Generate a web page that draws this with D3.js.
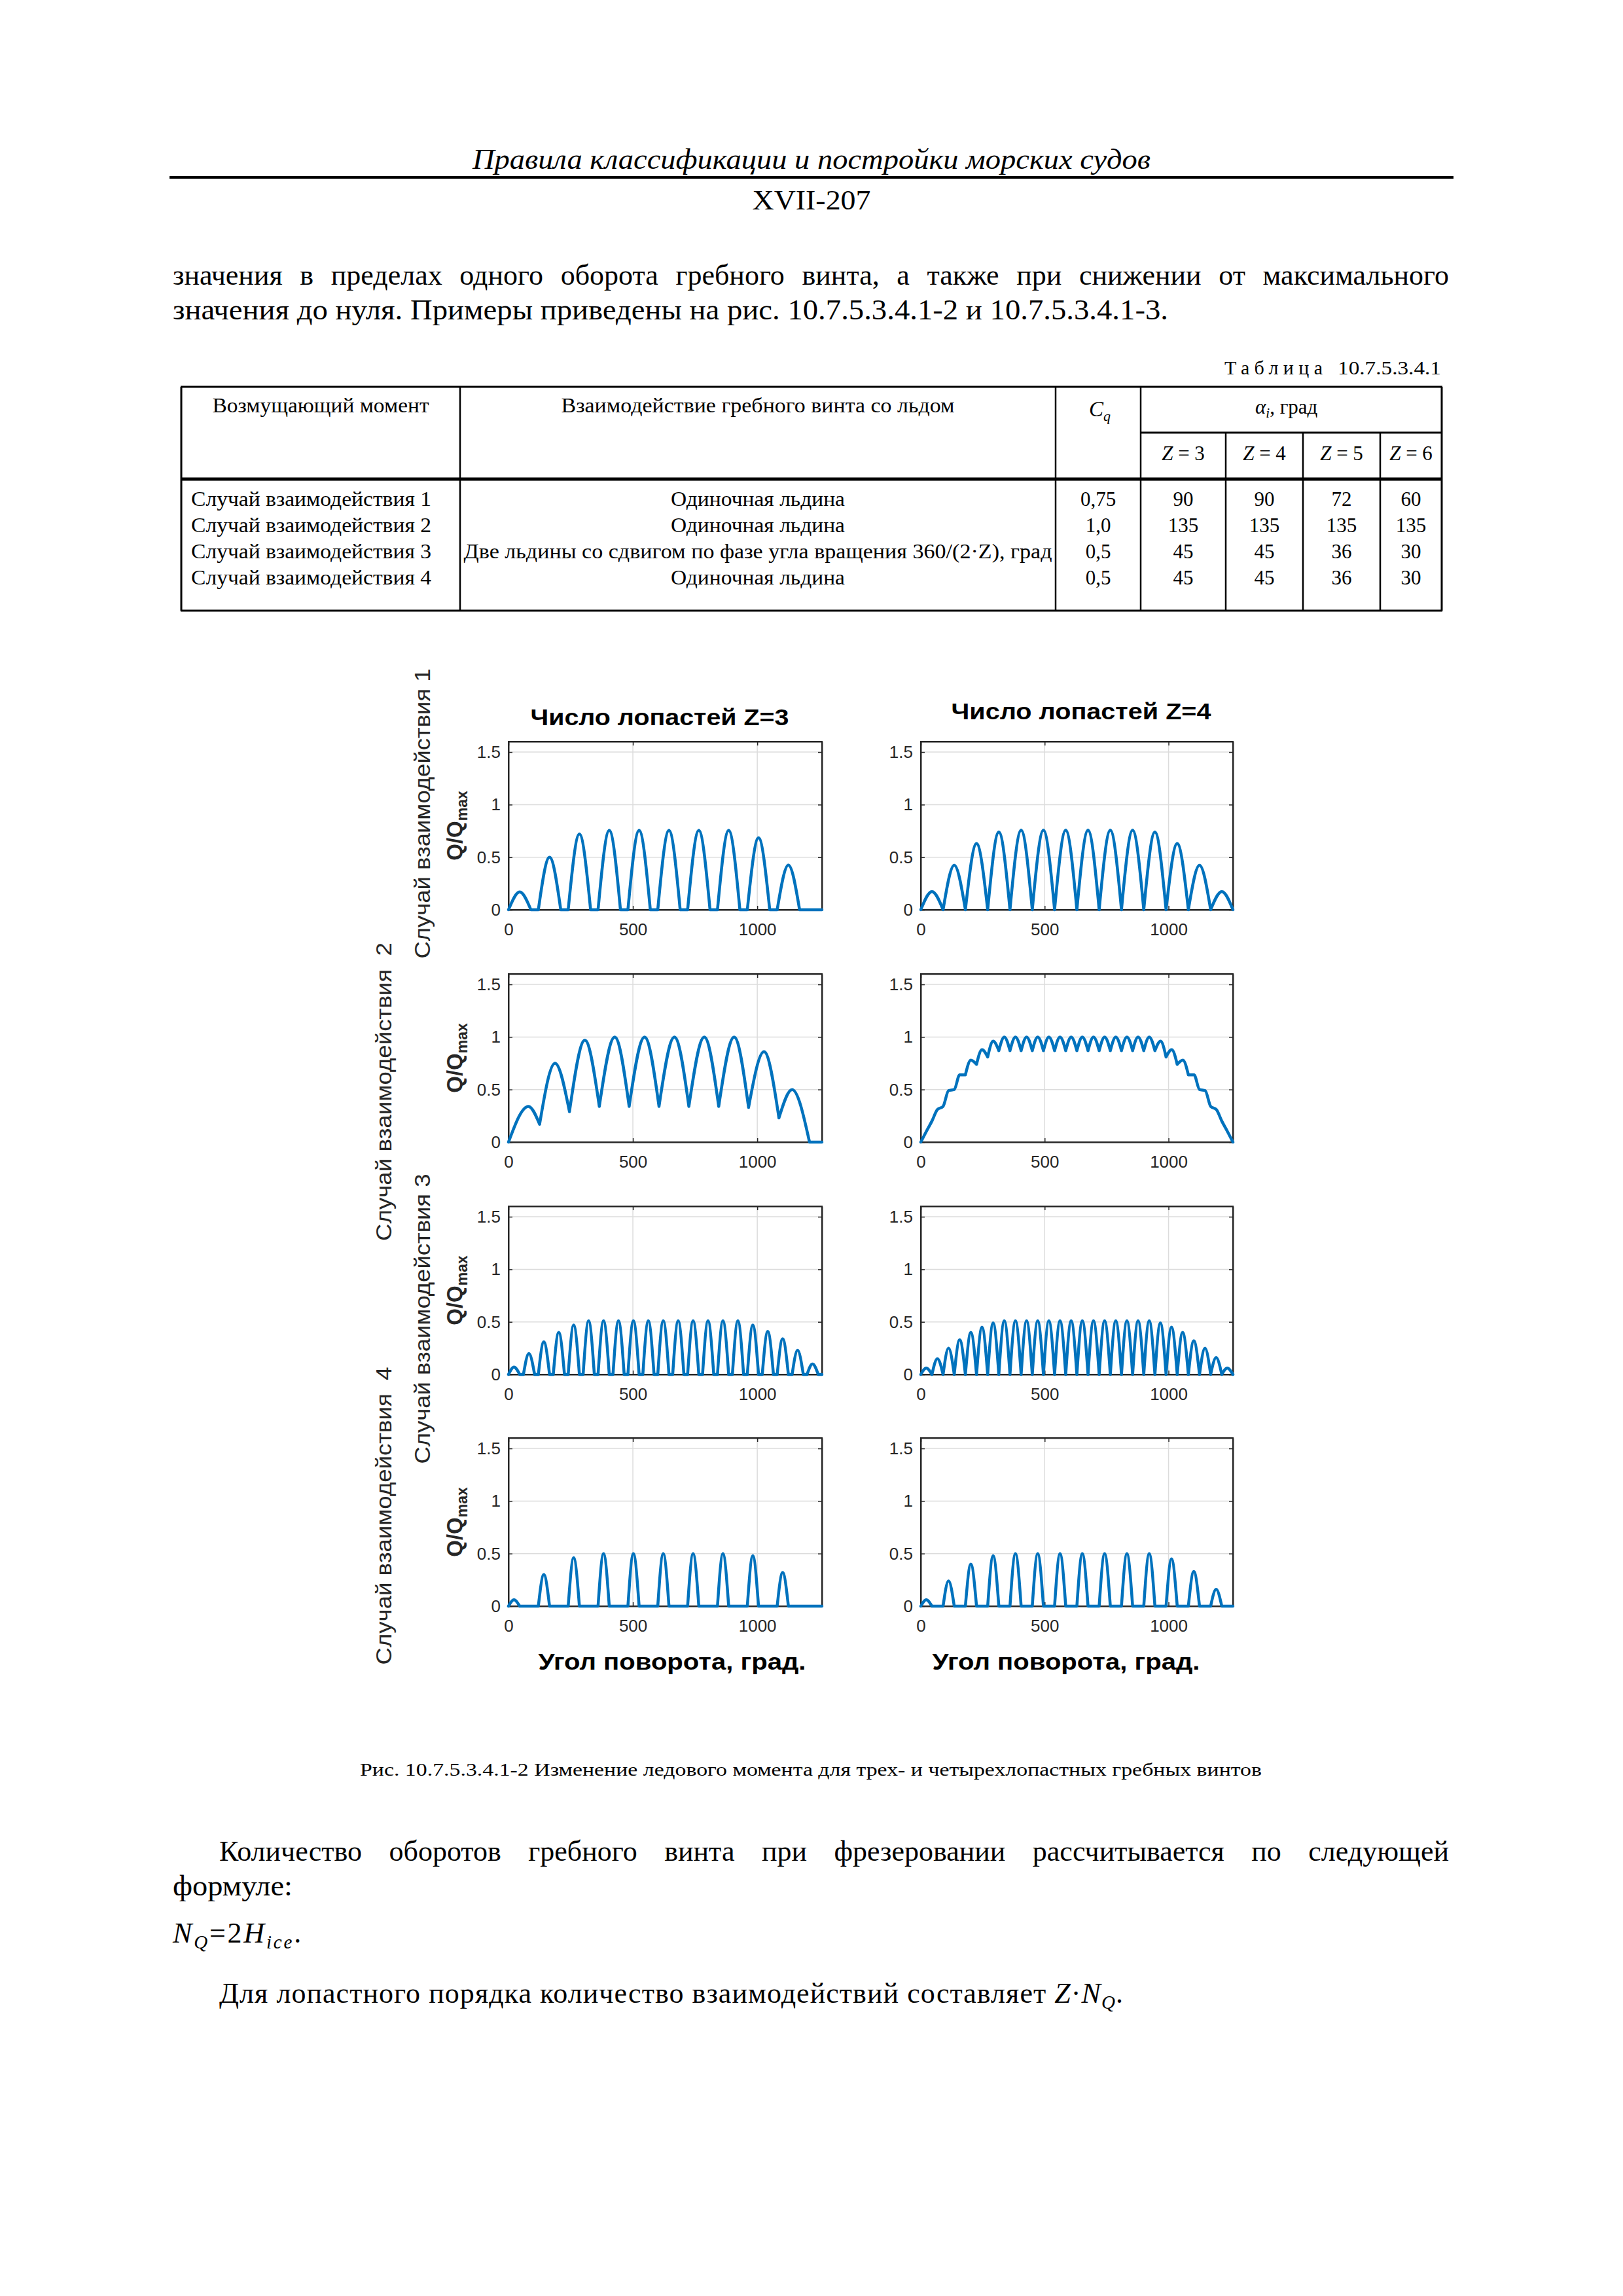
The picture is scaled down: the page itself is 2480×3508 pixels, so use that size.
<!DOCTYPE html>
<html><head><meta charset="utf-8">
<script src="https://cdn.jsdelivr.net/npm/d3@7"></script>
<style>body{margin:0;background:#fff}svg{display:block}</style>
</head><body>
<svg id="page" width="2480" height="3508"></svg>
<script>
// ---------------- DATA ----------------
const xDomain = [0, 1260];
const yDomain = [0, 1.6];
const xTicks = [0, 500, 1000];
const yTicks = [0, 0.5, 1, 1.5];
const yTickLabels = ["0", "0.5", "1", "1.5"];
const columnTitles = ["Число лопастей Z=3", "Число лопастей Z=4"];
const rowLabels = ["Случай взаимодействия 1", "Случай взаимодействия  2", "Случай взаимодействия 3", "Случай взаимодействия  4"];
const xLabel = "Угол поворота, град.";

// angle (deg), Q/Qmax  — key points
const case1Z3 = [[0,0],[45,0.17],[90,0],[120,0],[165,0.50],[210,0],[240,0],[285,0.72],[330,0],[360,0],[405,0.755],[450,0],[480,0],[525,0.755],[570,0],[600,0],[645,0.755],[690,0],[720,0],[765,0.755],[810,0],[840,0],[885,0.755],[930,0],[960,0],[1005,0.685],[1050,0],[1080,0],[1125,0.425],[1170,0],[1260,0]];
const case1Z4 = [[0,0],[45,0.173],[90,0],[135,0.423],[180,0],[225,0.63],[270,0],[315,0.74],[360,0],[405,0.756],[450,0],[495,0.756],[540,0],[585,0.756],[630,0],[675,0.756],[720,0],[765,0.756],[810,0],[855,0.756],[900,0],[945,0.74],[990,0],[1035,0.63],[1080,0],[1125,0.423],[1170,0],[1215,0.173],[1260,0]];
const case2Z3 = [[0,0],[80,0.34],[125,0.17],[187,0.75],[245,0.29],[307,0.97],[365,0.34],[427,1.0],[485,0.34],[547,1.0],[605,0.34],[667,1.0],[725,0.34],[787,1.0],[845,0.34],[907,1.0],[965,0.33],[1027,0.86],[1087,0.23],[1140,0.5],[1210,0],[1260,0]];
const case2Z4 = [[0,0],[22,0.1],[45,0.2],[67,0.31],[90,0.34],[112,0.49],[135,0.5],[157,0.64],[180,0.64],[202,0.78],[225,0.74],[247,0.88],[270,0.81],[292,0.96],[315,0.87],[337,1.0],[360,0.87],[382,1.0],[405,0.87],[427,1.0],[450,0.87],[472,1.0],[495,0.87],[517,1.0],[540,0.87],[562,1.0],[585,0.87],[607,1.0],[630,0.87],[652,1.0],[675,0.87],[697,1.0],[720,0.87],[742,1.0],[765,0.87],[787,1.0],[810,0.87],[832,1.0],[855,0.87],[877,1.0],[900,0.87],[922,1.0],[945,0.87],[968,0.96],[990,0.81],[1013,0.88],[1035,0.74],[1058,0.78],[1080,0.64],[1103,0.64],[1125,0.5],[1148,0.49],[1170,0.34],[1193,0.31],[1215,0.2],[1238,0.1],[1260,0]];
const case3Z3 = [[0,0],[22,0.07],[45,0],[60,0],[82,0.20],[105,0],[120,0],[142,0.31],[165,0],[180,0],[202,0.40],[225,0],[240,0],[262,0.47],[285,0],[300,0],[322,0.51],[345,0],[360,0],[382,0.51],[405,0],[420,0],[442,0.51],[465,0],[480,0],[502,0.51],[525,0],[540,0],[562,0.51],[585,0],[600,0],[622,0.51],[645,0],[660,0],[682,0.51],[705,0],[720,0],[742,0.51],[765,0],[780,0],[802,0.51],[825,0],[840,0],[862,0.51],[885,0],[900,0],[922,0.51],[945,0],[960,0],[982,0.47],[1005,0],[1020,0],[1042,0.41],[1065,0],[1080,0],[1102,0.34],[1125,0],[1140,0],[1162,0.23],[1185,0],[1200,0],[1222,0.10],[1245,0],[1260,0]];
const case3Z4 = [[0,0],[22,0.06],[45,0],[67,0.15],[90,0],[112,0.25],[135,0],[157,0.33],[180,0],[202,0.40],[225,0],[247,0.45],[270,0],[292,0.49],[315,0],[337,0.51],[360,0],[382,0.51],[405,0],[427,0.51],[450,0],[472,0.51],[495,0],[517,0.51],[540,0],[562,0.51],[585,0],[607,0.51],[630,0],[652,0.51],[675,0],[697,0.51],[720,0],[742,0.51],[765,0],[787,0.51],[810,0],[832,0.51],[855,0],[877,0.51],[900,0],[922,0.51],[945,0],[967,0.49],[990,0],[1012,0.45],[1035,0],[1057,0.40],[1080,0],[1102,0.32],[1125,0],[1147,0.25],[1170,0],[1192,0.16],[1215,0],[1237,0.06],[1260,0]];
const case4Z3 = [[0,0],[22,0.06],[45,0],[120,0],[142,0.30],[165,0],[240,0],[262,0.46],[285,0],[360,0],[382,0.50],[405,0],[480,0],[502,0.50],[525,0],[600,0],[622,0.50],[645,0],[720,0],[742,0.50],[765,0],[840,0],[862,0.50],[885,0],[960,0],[982,0.48],[1005,0],[1080,0],[1102,0.32],[1125,0],[1260,0]];
const case4Z4 = [[0,0],[22,0.06],[45,0],[90,0],[112,0.24],[135,0],[180,0],[202,0.40],[225,0],[270,0],[292,0.48],[315,0],[360,0],[382,0.50],[405,0],[450,0],[472,0.50],[495,0],[540,0],[562,0.50],[585,0],[630,0],[652,0.50],[675,0],[720,0],[742,0.50],[765,0],[810,0],[832,0.50],[855,0],[900,0],[922,0.50],[945,0],[990,0],[1012,0.45],[1035,0],[1080,0],[1102,0.33],[1125,0],[1170,0],[1192,0.16],[1215,0],[1260,0]];

// table
const tableHeaders = ["Возмущающий момент", "Взаимодействие гребного винта со льдом"];
const caseNames = ["Случай взаимодействия 1", "Случай взаимодействия 2", "Случай взаимодействия 3", "Случай взаимодействия 4"];
const iceDescr = ["Одиночная льдина", "Одиночная льдина", "Две льдины со сдвигом по фазе угла вращения 360/(2·Z), град", "Одиночная льдина"];
const cqValues = ["0,75", "1,0", "0,5", "0,5"];
const zHeaders = ["3", "4", "5", "6"];
const alphaValues = [["90","90","72","60"],["135","135","135","135"],["45","45","36","30"],["45","45","36","30"]];

// ---------------- DRAWING ----------------
const SERIF = "'Liberation Serif','Times New Roman',serif";
const SANS = "'Liberation Sans',Arial,sans-serif";
const svg = d3.select('#page');
svg.append('rect').attr('width', 2480).attr('height', 3508).attr('fill', '#fff');

function addText(x, y, str, o = {}) {
  const t = svg.append('text').attr('x', x).attr('y', y).text(str)
    .attr('font-family', o.family || SERIF).attr('font-size', o.size || 43)
    .attr('fill', o.fill || '#000').attr('text-anchor', o.anchor || 'start');
  if (o.weight) t.attr('font-weight', o.weight);
  if (o.style) t.attr('font-style', o.style);
  if (o.width) t.attr('textLength', o.width).attr('lengthAdjust', o.adjust || 'spacingAndGlyphs');
  if (o.justify) {
    const nat = t.node().getComputedTextLength();
    const sp = (str.match(/ /g) || []).length;
    if (sp > 0) t.style('word-spacing', ((o.justify - nat) / sp) + 'px');
  }
  return t;
}
function spreadTo(t, width) {
  const nat = t.node().getComputedTextLength();
  const n = t.text().length;
  if (n > 1 && nat > 0) t.style('letter-spacing', ((width - nat) / n) + 'px');
}

// header
addText(1240, 258, "Правила классификации и постройки морских судов", {size: 44, style: 'italic', anchor: 'middle', width: 1036});
svg.append('line').attr('x1', 259).attr('x2', 2221).attr('y1', 271).attr('y2', 271).attr('stroke', '#000').attr('stroke-width', 4);
addText(1240, 320, "XVII-207", {size: 42, anchor: 'middle', width: 181});

// paragraph
addText(264, 435, "значения в пределах одного оборота гребного винта, а также при снижении от максимального", {size: 44, justify: 1950});
addText(264, 488, "значения до нуля. Примеры приведены на рис. 10.7.5.3.4.1-2 и 10.7.5.3.4.1-3.", {size: 44, width: 1521});

// table caption
addText(1871, 572, "Таблица", {size: 30, width: 150, adjust: 'spacing'});
addText(2044, 572, "10.7.5.3.4.1", {size: 30, width: 158});

// table lines
const TL = 277, TR = 2203, TT = 591, TB = 933, THD = 732, TSUB = 661;
const colX = [703, 1613, 1743];
const zColX = [1873, 1991, 2109];
function hline(x1, x2, y, w) { svg.append('line').attr('x1', x1).attr('x2', x2).attr('y1', y).attr('y2', y).attr('stroke', '#000').attr('stroke-width', w); }
function vline(x, y1, y2, w) { svg.append('line').attr('x1', x).attr('x2', x).attr('y1', y1).attr('y2', y2).attr('stroke', '#000').attr('stroke-width', w); }
hline(TL - 1, TR + 1, TT, 3);
hline(TL - 1, TR + 1, TB, 3);
hline(TL, TR, THD, 5);
hline(colX[2], TR, TSUB, 3);
vline(TL, TT, TB, 3);
vline(TR, TT, TB, 3);
colX.forEach(x => vline(x, TT, TB, 2.5));
zColX.forEach(x => vline(x, TSUB, TB, 2.5));

// table header text
addText(490, 630, tableHeaders[0], {size: 31, anchor: 'middle', width: 331});
addText(1158, 630, tableHeaders[1], {size: 31, anchor: 'middle', width: 601});
{
  const t = svg.append('text').attr('x', 1664).attr('y', 636).attr('font-family', SERIF).attr('font-size', 33).attr('font-style', 'italic');
  t.append('tspan').text('C');
  t.append('tspan').attr('font-size', 22).attr('dy', 7).text('q');
}
{
  const t = svg.append('text').attr('x', 1918).attr('y', 632).attr('font-family', SERIF).attr('font-size', 31);
  t.append('tspan').attr('font-style', 'italic').text('α');
  t.append('tspan').attr('font-style', 'italic').attr('font-size', 21).attr('dy', 6).text('i');
  t.append('tspan').attr('dy', -6).text(', град');
}
const zCenters = [1808, 1932, 2050, 2156];
const cqCenter = 1678;
zHeaders.forEach((z, i) => {
  const t = svg.append('text').attr('x', zCenters[i]).attr('y', 703).attr('font-family', SERIF).attr('font-size', 31).attr('text-anchor', 'middle');
  t.append('tspan').attr('font-style', 'italic').text('Z');
  t.append('tspan').text(' = ' + z);
});

// table body
const rowBase = [773, 813, 853, 893];
const descrWidths = [266, 266, 899, 266];
caseNames.forEach((c, i) => {
  addText(292, rowBase[i], c, {size: 31, width: 367});
  addText(1158, rowBase[i], iceDescr[i], {size: 31, anchor: 'middle', width: descrWidths[i]});
  addText(cqCenter, rowBase[i], cqValues[i], {size: 31, anchor: 'middle'});
  alphaValues[i].forEach((v, j) => addText(zCenters[j], rowBase[i], v, {size: 31, anchor: 'middle'}));
});

// ---------------- CHART PANELS ----------------
const colRanges = [[777, 1256], [1407, 1884]];
const rowTops = [1133, 1488, 1843, 2197];
const PH = 257;
const panelData = [[case1Z3, case1Z4], [case2Z3, case2Z4], [case3Z3, case3Z4], [case4Z3, case4Z4]];
const BLUE = '#0072BD', AX = '#262626';

function splitAtMinima(pts) {
  const segs = []; let cur = [pts[0]];
  for (let i = 1; i < pts.length; i++) {
    cur.push(pts[i]);
    if (i < pts.length - 1 && pts[i][1] <= pts[i - 1][1] && pts[i][1] <= pts[i + 1][1]) {
      segs.push(cur); cur = [pts[i]];
    }
  }
  if (cur.length > 1) segs.push(cur);
  return segs;
}

panelData.forEach((row, r) => {
  row.forEach((series, c) => {
    const [x0, x1] = colRanges[c];
    const yTop = rowTops[r], yBot = rowTops[r] + PH;
    const x = d3.scaleLinear().domain(xDomain).range([x0, x1]);
    const y = d3.scaleLinear().domain(yDomain).range([yBot, yTop]);
    const g = svg.append('g');
    // grid
    g.selectAll('.gx').data(xTicks.filter(d => d > 0)).enter().append('line')
      .attr('x1', d => x(d)).attr('x2', d => x(d)).attr('y1', yTop).attr('y2', yBot)
      .attr('stroke', '#dcdcdc').attr('stroke-width', 1.5);
    g.selectAll('.gy').data(yTicks.filter(d => d > 0)).enter().append('line')
      .attr('x1', x0).attr('x2', x1).attr('y1', d => y(d)).attr('y2', d => y(d))
      .attr('stroke', '#dcdcdc').attr('stroke-width', 1.5);
    // box
    g.append('rect').attr('x', x0).attr('y', yTop).attr('width', x1 - x0).attr('height', PH)
      .attr('fill', 'none').attr('stroke', AX).attr('stroke-width', 2);
    // axes
    const ax = g.append('g').attr('transform', `translate(0,${yBot})`)
      .call(d3.axisBottom(x).tickValues(xTicks).tickSizeInner(-6).tickSizeOuter(0).tickPadding(21).tickFormat(d3.format('d')));
    const ay = g.append('g').attr('transform', `translate(${x0},0)`)
      .call(d3.axisLeft(y).tickValues(yTicks).tickSizeInner(-6).tickSizeOuter(0).tickPadding(12).tickFormat((d, i) => yTickLabels[i]));
    const at = g.append('g').attr('transform', `translate(0,${yTop})`)
      .call(d3.axisTop(x).tickValues(xTicks).tickSizeInner(-6).tickSizeOuter(0).tickFormat(''));
    const ar = g.append('g').attr('transform', `translate(${x1},0)`)
      .call(d3.axisRight(y).tickValues(yTicks).tickSizeInner(-6).tickSizeOuter(0).tickFormat(''));
    [ax, ay, at, ar].forEach(a => {
      a.attr('font-family', SANS).attr('font-size', 26);
      a.select('.domain').attr('stroke', AX).attr('stroke-width', 2);
      a.selectAll('.tick line').attr('stroke', AX).attr('stroke-width', 1.5);
      a.selectAll('.tick text').attr('fill', AX);
    });
    // data
    const line = d3.line().x(d => x(d[0])).y(d => y(d[1])).curve(d3.curveMonotoneX);
    const dstr = splitAtMinima(series).map(s => line(s)).join('');
    g.append('path').attr('d', dstr).attr('fill', 'none').attr('stroke', BLUE)
      .attr('stroke-width', 4.5).attr('stroke-linejoin', 'round').attr('stroke-linecap', 'round');

    // y label on left column
    if (c === 0) {
      const yc = (yTop + yBot) / 2;
      const t = svg.append('text').attr('transform', `translate(706,${yc}) rotate(-90)`)
        .attr('text-anchor', 'middle').attr('font-family', SANS).attr('font-weight', 'bold').attr('fill', AX);
      t.append('tspan').attr('font-size', 33).text('Q/Q');
      t.append('tspan').attr('font-size', 23).attr('dy', 8).text('max');
    }
  });
});

// column titles
addText(1008, 1108, columnTitles[0], {family: SANS, size: 35, weight: 'bold', anchor: 'middle', width: 395});
addText(1652, 1099, columnTitles[1], {family: SANS, size: 35, weight: 'bold', anchor: 'middle', width: 397});

// row labels (rotated)
const rowLabelPos = [[657, 1243, 443], [598, 1668, 456], [657, 2015, 443], [598, 2316, 455]];
rowLabels.forEach((s, i) => {
  const [bx, cy, w] = rowLabelPos[i];
  svg.append('text').attr('transform', `translate(${bx},${cy}) rotate(-90)`)
    .attr('text-anchor', 'middle').attr('font-family', SANS).attr('font-size', 34).attr('fill', AX)
    .style('white-space', 'pre').attr('textLength', w).attr('lengthAdjust', 'spacingAndGlyphs').text(s);
});

// x labels
addText(1027, 2551, xLabel, {family: SANS, size: 35, weight: 'bold', anchor: 'middle', width: 409});
addText(1629, 2551, xLabel, {family: SANS, size: 35, weight: 'bold', anchor: 'middle', width: 409});

// caption
addText(550, 2713, "Рис. 10.7.5.3.4.1-2 Изменение ледового момента для трех- и четырехлопастных гребных винтов", {size: 28, width: 1378});

// closing paragraph
addText(335, 2843, "Количество оборотов гребного винта при фрезеровании рассчитывается по следующей", {size: 44, justify: 1879});
addText(264, 2896, "формуле:", {size: 44, width: 183});
{
  const t = svg.append('text').attr('x', 264).attr('y', 2968).attr('font-family', SERIF).attr('font-size', 44);
  t.append('tspan').attr('font-style', 'italic').text('N');
  t.append('tspan').attr('font-style', 'italic').attr('font-size', 29).attr('dy', 9).text('Q');
  t.append('tspan').attr('dy', -9).text('=2');
  t.append('tspan').attr('font-style', 'italic').text('H');
  t.append('tspan').attr('font-style', 'italic').attr('font-size', 29).attr('dy', 9).text('ice');
  t.append('tspan').attr('dy', -9).text('.');
  spreadTo(t, 199);
}
{
  const t = svg.append('text').attr('x', 335).attr('y', 3060).attr('font-family', SERIF).attr('font-size', 44);
  t.append('tspan').text('Для лопастного порядка количество взаимодействий составляет ');
  t.append('tspan').attr('font-style', 'italic').text('Z');
  t.append('tspan').text('·');
  t.append('tspan').attr('font-style', 'italic').text('N');
  t.append('tspan').attr('font-style', 'italic').attr('font-size', 29).attr('dy', 9).text('Q');
  t.append('tspan').attr('dy', -9).text('.');
  spreadTo(t, 1382);
}
</script>
</body></html>
